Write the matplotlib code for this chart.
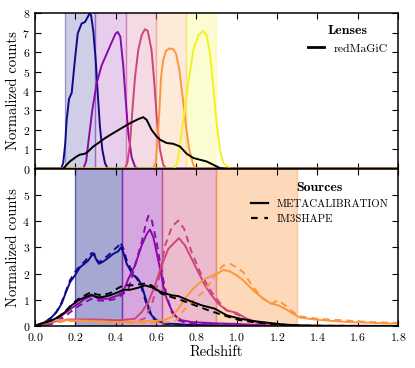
import matplotlib
matplotlib.use("Agg")
import matplotlib.pyplot as plt
from matplotlib.lines import Line2D

plt.rcParams['font.family'] = 'cmr10'
plt.rcParams['mathtext.fontset'] = 'cm'
plt.rcParams['axes.formatter.use_mathtext'] = True
plt.rcParams['axes.linewidth'] = 1.1

# colours per tomographic bin
bin_colors = ['#0c0c8a', '#8c0aa8', '#cc4778', '#fb963f', '#f2f21e']

# lens bins (redMaGiC)
lens_edges = [0.15, 0.3, 0.45, 0.6, 0.75, 0.9]
lens_z = [
    [0, 0.13, 0.14, 0.15, 0.157, 0.169, 0.182, 0.198, 0.212, 0.231, 0.248, 0.261, 0.27, 0.278, 0.289,
     0.301, 0.311, 0.322, 0.334, 0.347, 0.36, 1.8],
    [0, 0.24, 0.254, 0.264, 0.284, 0.306, 0.33, 0.355, 0.38, 0.4, 0.41, 0.423, 0.438, 0.45, 0.463,
     0.479, 0.496, 0.51, 1.8],
    [0, 0.445, 0.458, 0.471, 0.483, 0.496, 0.512, 0.529, 0.545, 0.559, 0.578, 0.592, 0.603, 0.62,
     0.636, 0.65, 1.8],
    [0, 0.585, 0.598, 0.607, 0.617, 0.625, 0.636, 0.65, 0.666, 0.686, 0.699, 0.716, 0.732, 0.749,
     0.765, 0.785, 0.8, 1.8],
    [0, 0.69, 0.705, 0.716, 0.735, 0.76, 0.785, 0.81, 0.834, 0.851, 0.868, 0.884, 0.901, 0.917,
     0.934, 0.958, 0.97, 1.8],
]
lens_n = [
    [0, 0, 0.3, 1.3, 2.5, 3.6, 3.9, 5.6, 6.96, 7.47, 7.55, 7.8, 7.98, 7.9, 7.1,
     5.6, 3.9, 2.17, 0.97, 0.29, 0.0, 0],
    [0, 0, 0.4, 1.3, 3.0, 4.4, 5.3, 5.9, 6.5, 6.96, 7.04, 6.8, 5.25, 3.5, 1.8,
     0.6, 0.1, 0, 0],
    [0, 0, 0.3, 1.3, 3.0, 4.7, 6.1, 6.87, 7.18, 7.1, 6.1, 4.4, 2.7, 0.97,
     0.2, 0, 0],
    [0, 0, 0.3, 1.3, 3.0, 4.7, 5.6, 6.07, 6.19, 6.15, 5.93, 5.08, 3.7, 2.17,
     0.97, 0.2, 0, 0],
    [0, 0, 0.3, 0.97, 2.5, 4.4, 6.1, 6.87, 7.09, 6.87, 5.93, 4.2, 2.34, 0.97,
     0.29, 0.08, 0, 0],
]
lens_all_z = [0, 0.14, 0.157, 0.174, 0.19, 0.207, 0.223, 0.248, 0.264, 0.289, 0.314, 0.347, 0.388,
              0.43, 0.471, 0.512, 0.537, 0.554, 0.578, 0.603, 0.62, 0.653, 0.686, 0.719, 0.752,
              0.785, 0.818, 0.851, 0.884, 0.917, 0.942, 1.8]
lens_all_n = [0, 0, 0.2, 0.38, 0.5, 0.63, 0.72, 0.77, 0.89, 1.14, 1.32, 1.57, 1.83,
              2.09, 2.34, 2.55, 2.65, 2.51, 2.0, 1.66, 1.49, 1.32, 1.28, 1.14, 0.77,
              0.55, 0.46, 0.37, 0.2, 0.03, 0, 0]

# source bins
src_edges = [0.2, 0.43, 0.63, 0.9, 1.3]
mcal_z = [
    [0, 0.017, 0.05, 0.083, 0.107, 0.132, 0.157, 0.174, 0.198, 0.223, 0.245, 0.264, 0.281, 0.294,
     0.306, 0.317, 0.339, 0.364, 0.388, 0.413, 0.426, 0.438, 0.455, 0.487, 0.505, 0.515, 0.529,
     0.554, 0.578, 0.603, 0.645, 0.75, 0.9, 1.1, 1.8],
    [0, 0.05, 0.1, 0.15, 0.2, 0.215, 0.248, 0.289, 0.314, 0.364, 0.413, 0.438, 0.463, 0.496, 0.529,
     0.554, 0.57, 0.587, 0.603, 0.62, 0.636, 0.653, 0.678, 0.702, 0.727, 0.777, 0.9, 1.0, 1.1, 1.2,
     1.8],
    [0, 0.03, 0.066, 0.099, 0.165, 0.297, 0.413, 0.463, 0.496, 0.529, 0.562, 0.595, 0.628, 0.661,
     0.694, 0.714, 0.744, 0.777, 0.81, 0.843, 0.876, 0.909, 0.95, 1.0, 1.05, 1.1, 1.17, 1.25, 1.8],
    [0, 0.033, 0.066, 0.099, 0.248, 0.413, 0.529, 0.611, 0.645, 0.678, 0.711, 0.744, 0.777, 0.81,
     0.843, 0.868, 0.909, 0.934, 0.967, 1.0, 1.033, 1.082, 1.132, 1.173, 1.206, 1.24, 1.28, 1.314,
     1.397, 1.479, 1.562, 1.644, 1.727, 1.8],
]
mcal_n = [
    [0, 0.06, 0.15, 0.34, 0.53, 0.85, 1.36, 1.67, 1.93, 2.24, 2.37, 2.5, 2.69, 2.71,
     2.5, 2.37, 2.46, 2.6, 2.75, 2.85, 3.0, 2.81, 2.37, 1.93, 1.85, 1.75, 1.55,
     0.91, 0.41, 0.22, 0.1, 0.05, 0.02, 0, 0],
    [0, 0.04, 0.2, 0.5, 0.78, 0.85, 1.04, 1.17, 1.04, 1.04, 1.17, 1.3, 1.8, 2.31, 3.07,
     3.51, 3.68, 3.38, 2.81, 2.18, 1.55, 1.04, 0.6, 0.34, 0.22, 0.15, 0.1, 0.08, 0.04, 0,
     0],
    [0, 0.05, 0.12, 0.18, 0.25, 0.25, 0.22, 0.25, 0.28, 0.53, 0.91, 1.55, 2.31, 2.94,
     3.2, 3.35, 3.07, 2.56, 2.05, 1.55, 1.17, 0.85, 0.6, 0.5, 0.28, 0.15, 0.06, 0.02, 0],
    [0, 0.09, 0.18, 0.23, 0.2, 0.15, 0.18, 0.2, 0.24, 0.34, 0.66, 1.04, 1.36, 1.61,
     1.8, 1.88, 2.02, 2.14, 2.08, 1.93, 1.74, 1.36, 1.04, 0.85, 0.79, 0.66, 0.47, 0.32,
     0.24, 0.19, 0.15, 0.13, 0.1, 0.09],
]
mcal_all_z = [0, 0.033, 0.083, 0.116, 0.149, 0.182, 0.215, 0.248, 0.281, 0.306, 0.33, 0.372, 0.413,
              0.438, 0.471, 0.512, 0.545, 0.578, 0.628, 0.678, 0.711, 0.76, 0.826, 0.892, 0.95,
              1.016, 1.082, 1.149, 1.23, 1.31, 1.45, 1.8]
mcal_all_n = [0, 0.09, 0.22, 0.34, 0.53, 0.79, 0.98, 1.1, 1.19, 1.1, 1.1, 1.17, 1.29,
              1.38, 1.38, 1.46, 1.55, 1.48, 1.29, 1.17, 1.14, 0.98, 0.79, 0.66, 0.41,
              0.28, 0.19, 0.13, 0.06, 0.02, 0, 0]

im3_z = [
    [0, 0.017, 0.05, 0.083, 0.107, 0.132, 0.157, 0.174, 0.198, 0.223, 0.245, 0.264, 0.281, 0.294,
     0.306, 0.317, 0.339, 0.364, 0.388, 0.413, 0.423, 0.438, 0.455, 0.487, 0.505, 0.515, 0.529,
     0.554, 0.578, 0.603, 0.645, 0.75, 0.9, 1.1, 1.8],
    [0, 0.05, 0.1, 0.15, 0.2, 0.25, 0.28, 0.3, 0.35, 0.4, 0.43, 0.463, 0.496, 0.529, 0.55, 0.562,
     0.57, 0.58, 0.603, 0.628, 0.653, 0.678, 0.711, 0.75, 0.8, 0.9, 1.0, 1.1, 1.2, 1.8],
    [0, 0.03, 0.066, 0.099, 0.165, 0.297, 0.413, 0.5, 0.545, 0.578, 0.611, 0.645, 0.68, 0.711,
     0.74, 0.777, 0.826, 0.876, 0.92, 0.95, 1.0, 1.05, 1.1, 1.17, 1.25, 1.8],
    [0, 0.033, 0.066, 0.099, 0.248, 0.413, 0.529, 0.611, 0.67, 0.702, 0.744, 0.793, 0.835, 0.87,
     0.901, 0.934, 0.967, 1.0, 1.033, 1.082, 1.132, 1.173, 1.206, 1.24, 1.28, 1.314, 1.397, 1.479,
     1.562, 1.644, 1.74, 1.8],
]
im3_n = [
    [0, 0.05, 0.14, 0.33, 0.55, 0.9, 1.4, 1.75, 2.05, 2.3, 2.45, 2.62, 2.78, 2.76,
     2.55, 2.42, 2.55, 2.7, 2.88, 3.05, 3.2, 2.95, 2.5, 2.0, 1.8, 1.7, 1.45,
     0.8, 0.35, 0.18, 0.08, 0.04, 0.02, 0, 0],
    [0, 0.02, 0.12, 0.38, 0.68, 0.92, 1.03, 0.98, 0.96, 1.03, 1.18, 1.4, 2.3, 3.2, 3.9, 4.2,
     4.2, 4.0, 3.2, 2.05, 1.17, 0.53, 0.22, 0.12, 0.09, 0.07, 0.05, 0.03, 0, 0],
    [0, 0.04, 0.1, 0.15, 0.2, 0.2, 0.15, 0.15, 0.3, 0.79, 1.67, 3.07, 3.8, 4.02,
     3.7, 2.81, 1.93, 1.29, 0.85, 0.6, 0.45, 0.25, 0.12, 0.05, 0.02, 0],
    [0, 0.08, 0.16, 0.2, 0.18, 0.13, 0.13, 0.13, 0.15, 0.22, 0.66, 1.04, 1.3, 1.65,
     2.05, 2.31, 2.37, 2.24, 2.05, 1.48, 1.04, 0.85, 0.98, 0.79, 0.53, 0.37, 0.28, 0.24,
     0.2, 0.16, 0.13, 0.12],
]
im3_all_z = [0, 0.033, 0.083, 0.116, 0.149, 0.182, 0.215, 0.248, 0.281, 0.306, 0.33, 0.372, 0.413,
             0.438, 0.479, 0.545, 0.578, 0.628, 0.678, 0.727, 0.793, 0.86, 0.934, 1.016, 1.08,
             1.15, 1.25, 1.35, 1.8]
im3_all_n = [0, 0.09, 0.22, 0.35, 0.55, 0.82, 1.03, 1.17, 1.3, 1.2, 1.18, 1.25, 1.45,
             1.55, 1.55, 1.62, 1.55, 1.23, 1.1, 0.98, 0.79, 0.6, 0.41, 0.22, 0.15,
             0.09, 0.04, 0.01, 0]


fig = plt.figure(figsize=(4.15, 3.68), dpi=100)
ax1 = fig.add_axes([0.0843, 0.5417, 0.8747, 0.4222])
ax2 = fig.add_axes([0.0843, 0.1141, 0.8747, 0.4276], sharex=ax1)

lw = 1.4

# top: lenses
for i in range(5):
    ax1.axvspan(lens_edges[i], lens_edges[i + 1], color=bin_colors[i], alpha=0.2, lw=0)
    ax1.axvline(lens_edges[i], color=bin_colors[i], alpha=0.3, lw=1)
    ax1.axvline(lens_edges[i + 1], color=bin_colors[i], alpha=0.3, lw=1)
for i in range(5):
    ax1.plot(lens_z[i], lens_n[i], color=bin_colors[i], lw=lw)
ax1.plot(lens_all_z, lens_all_n, color='k', lw=lw)
ax1.set_ylim(0, 8)
ax1.set_yticks(range(0, 9))
ax1.set_ylabel('Normalized counts', fontsize=10.5, labelpad=2)
plt.setp(ax1.get_xticklabels(), visible=False)

leg1 = ax1.legend([Line2D([], [], color='k', lw=2)], ['redMaGiC'], loc='upper right',
                  frameon=False, fontsize=8.5, handlelength=1.3, title='Lenses',
                  title_fontproperties={'family': 'cmb10', 'size': 10},
                  bbox_to_anchor=(1.0, 0.99))

# bottom: sources
for i in range(4):
    ax2.axvspan(src_edges[i], src_edges[i + 1], color=bin_colors[i], alpha=0.36, lw=0)
    ax2.axvline(src_edges[i], color=bin_colors[i], alpha=0.5, lw=1)
    ax2.axvline(src_edges[i + 1], color=bin_colors[i], alpha=0.5, lw=1)
for i in range(4):
    ax2.plot(mcal_z[i], mcal_n[i], color=bin_colors[i], lw=lw)
    ax2.plot(im3_z[i], im3_n[i], color=bin_colors[i], lw=lw, ls=(0, (3.5, 2.5)))
ax2.plot(mcal_all_z, mcal_all_n, color='k', lw=lw)
ax2.plot(im3_all_z, im3_all_n, color='k', lw=lw, ls=(0, (3.5, 2.5)))
ax2.set_ylim(0, 6)
ax2.set_yticks(range(0, 6))
ax2.set_xlim(0, 1.8)
ax2.set_xticks([0.0, 0.2, 0.4, 0.6, 0.8, 1.0, 1.2, 1.4, 1.6, 1.8])
ax2.set_ylabel('Normalized counts', fontsize=10.5, labelpad=2)
ax2.set_xlabel('Redshift', fontsize=10.5, labelpad=2)

leg2 = ax2.legend([Line2D([], [], color='k', lw=1.6), Line2D([], [], color='k', lw=1.6, ls=(0, (3, 3)))],
                  ['METACALIBRATION', 'IM3SHAPE'], loc='upper right',
                  frameon=False, fontsize=7.8, handlelength=1.5, title='Sources',
                  title_fontproperties={'family': 'cmb10', 'size': 10},
                  bbox_to_anchor=(1.0, 0.98))

for ax in (ax1, ax2):
    ax.tick_params(direction='in', top=True, right=True, labelsize=8.5, length=4, width=0.8)

fig.savefig('out.png', dpi=100)
